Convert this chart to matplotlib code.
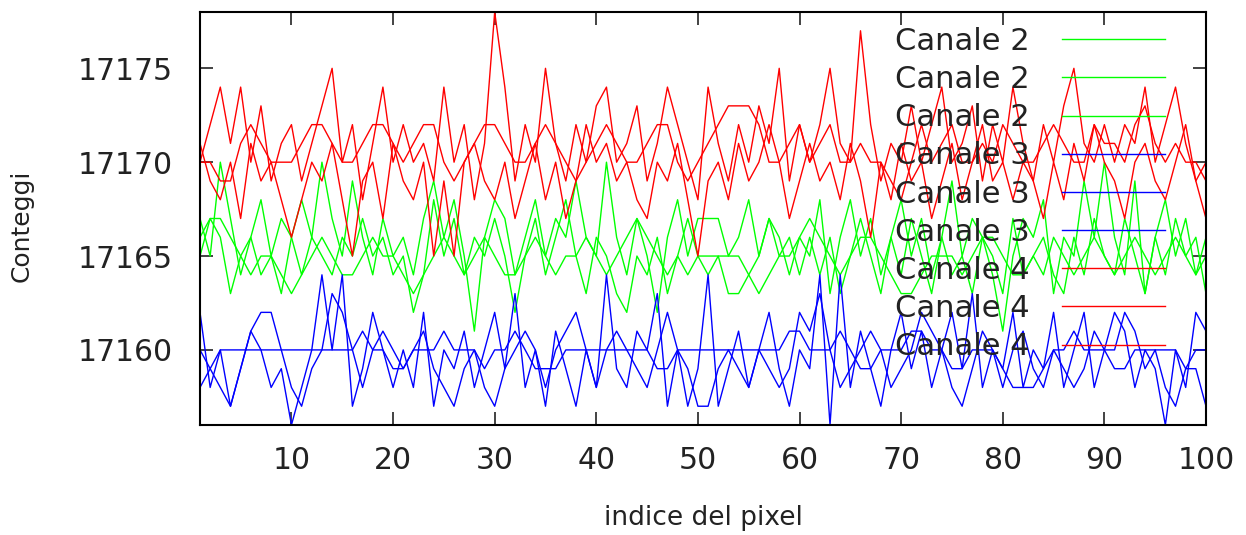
import numpy as np
import matplotlib
matplotlib.use('Agg')
import matplotlib.pyplot as plt

# indice del pixel
pixel = np.arange(1, 101)

# Canale 2 (verde)
canale2_a = [17167, 17165, 17170, 17167, 17164, 17166, 17168, 17165, 17167, 17166,
             17164, 17166, 17170, 17167, 17165, 17169, 17166, 17164, 17167, 17165,
             17166, 17164, 17167, 17169, 17166, 17168, 17165, 17161, 17166, 17168,
             17167, 17164, 17166, 17168, 17165, 17167, 17166, 17169, 17166, 17165,
             17170, 17166, 17164, 17167, 17165, 17162, 17166, 17168, 17165, 17167,
             17167, 17167, 17165, 17166, 17168, 17165, 17167, 17166, 17164, 17166,
             17165, 17168, 17163, 17166, 17168, 17165, 17167, 17164, 17166, 17168,
             17165, 17167, 17164, 17166, 17169, 17165, 17167, 17166, 17164, 17161,
             17165, 17167, 17166, 17168, 17163, 17166, 17165, 17169, 17166, 17170,
             17166, 17164, 17169, 17163, 17166, 17168, 17165, 17167, 17164, 17166]
canale2_b = [17165, 17167, 17166, 17163, 17165, 17166, 17164, 17165, 17163, 17166,
             17168, 17166, 17165, 17164, 17166, 17165, 17167, 17165, 17166, 17164,
             17165, 17162, 17164, 17168, 17165, 17167, 17164, 17166, 17165, 17167,
             17165, 17162, 17165, 17167, 17164, 17166, 17168, 17165, 17163, 17166,
             17165, 17163, 17162, 17165, 17164, 17166, 17163, 17165, 17167, 17165,
             17165, 17165, 17163, 17163, 17164, 17165, 17167, 17165, 17166, 17164,
             17166, 17164, 17166, 17163, 17165, 17167, 17165, 17163, 17166, 17164,
             17167, 17165, 17163, 17166, 17164, 17165, 17163, 17166, 17165, 17163,
             17167, 17164, 17165, 17166, 17164, 17163, 17166, 17164, 17167, 17165,
             17164, 17167, 17165, 17163, 17166, 17164, 17167, 17165, 17166, 17163]
canale2_c = [17166, 17167, 17167, 17166, 17165, 17164, 17165, 17165, 17164, 17163,
             17164, 17165, 17166, 17165, 17164, 17164, 17165, 17166, 17165, 17165,
             17164, 17163, 17164, 17165, 17166, 17165, 17164, 17165, 17166, 17165,
             17164, 17164, 17165, 17166, 17165, 17164, 17165, 17165, 17166, 17165,
             17164, 17165, 17166, 17167, 17166, 17165, 17164, 17165, 17164, 17165,
             17164, 17165, 17165, 17165, 17164, 17163, 17164, 17165, 17165, 17166,
             17167, 17166, 17165, 17164, 17165, 17166, 17166, 17165, 17164, 17163,
             17163, 17164, 17165, 17165, 17165, 17164, 17165, 17166, 17166, 17165,
             17164, 17164, 17165, 17164, 17166, 17165, 17164, 17165, 17166, 17165,
             17164, 17165, 17166, 17165, 17164, 17165, 17166, 17165, 17164, 17165]

# Canale 3 (blu)
canale3_a = [17160, 17159, 17160, 17160, 17160, 17160, 17160, 17160, 17160, 17160,
             17160, 17160, 17160, 17160, 17160, 17160, 17161, 17160, 17160, 17159,
             17159, 17160, 17160, 17160, 17161, 17160, 17160, 17160, 17159, 17160,
             17160, 17161, 17160, 17159, 17159, 17159, 17160, 17160, 17160, 17160,
             17160, 17160, 17160, 17160, 17160, 17159, 17159, 17160, 17160, 17160,
             17160, 17160, 17160, 17160, 17160, 17160, 17160, 17160, 17161, 17161,
             17160, 17160, 17160, 17161, 17160, 17159, 17159, 17160, 17160, 17160,
             17161, 17161, 17160, 17160, 17159, 17159, 17160, 17160, 17160, 17159,
             17158, 17158, 17158, 17159, 17160, 17160, 17161, 17160, 17160, 17160,
             17159, 17159, 17160, 17160, 17160, 17160, 17160, 17159, 17159, 17157]
canale3_b = [17162, 17158, 17160, 17157, 17159, 17161, 17160, 17158, 17159, 17156,
             17158, 17160, 17164, 17160, 17164, 17157, 17159, 17162, 17160, 17158,
             17160, 17158, 17162, 17157, 17160, 17159, 17161, 17158, 17160, 17162,
             17159, 17163, 17158, 17160, 17157, 17161, 17159, 17157, 17160, 17158,
             17164, 17159, 17158, 17161, 17160, 17163, 17157, 17160, 17157, 17159,
             17164, 17157, 17159, 17161, 17158, 17160, 17162, 17159, 17157, 17160,
             17159, 17164, 17156, 17164, 17158, 17161, 17159, 17157, 17160, 17162,
             17159, 17161, 17158, 17160, 17162, 17159, 17163, 17158, 17160, 17159,
             17162, 17158, 17160, 17159, 17162, 17158, 17160, 17162, 17158, 17160,
             17162, 17161, 17158, 17160, 17159, 17156, 17160, 17158, 17162, 17161]
canale3_c = [17158, 17159, 17158, 17157, 17159, 17161, 17162, 17162, 17160, 17158,
             17157, 17159, 17160, 17163, 17162, 17160, 17158, 17160, 17161, 17160,
             17159, 17160, 17161, 17159, 17158, 17157, 17159, 17160, 17158, 17157,
             17159, 17160, 17161, 17160, 17158, 17160, 17161, 17162, 17160, 17158,
             17160, 17161, 17160, 17159, 17158, 17160, 17162, 17160, 17159, 17157,
             17157, 17159, 17160, 17159, 17158, 17160, 17159, 17158, 17159, 17162,
             17161, 17163, 17160, 17158, 17159, 17160, 17161, 17160, 17158, 17159,
             17160, 17162, 17161, 17160, 17158, 17157, 17159, 17161, 17160, 17158,
             17160, 17161, 17159, 17158, 17160, 17159, 17158, 17159, 17161, 17160,
             17160, 17162, 17161, 17159, 17160, 17158, 17157, 17159, 17160, 17160]

# Canale 4 (rosso)
canale4_a = [17170, 17172, 17174, 17171, 17174, 17170, 17173, 17169, 17171, 17172,
             17169, 17171, 17173, 17175, 17170, 17172, 17168, 17171, 17174, 17170,
             17172, 17170, 17171, 17169, 17174, 17170, 17172, 17168, 17171, 17178,
             17174, 17169, 17172, 17170, 17175, 17171, 17169, 17172, 17170, 17173,
             17174, 17170, 17171, 17173, 17169, 17171, 17174, 17172, 17170, 17168,
             17174, 17171, 17169, 17172, 17170, 17173, 17171, 17175, 17169, 17172,
             17170, 17172, 17175, 17171, 17170, 17177, 17172, 17169, 17171, 17170,
             17173, 17170, 17172, 17174, 17170, 17171, 17173, 17169, 17172, 17170,
             17174, 17171, 17169, 17172, 17170, 17173, 17175, 17171, 17170, 17172,
             17170, 17172, 17171, 17174, 17170, 17172, 17174, 17171, 17169, 17170]
canale4_b = [17171, 17169, 17168, 17170, 17167, 17171, 17169, 17170, 17168, 17166,
             17168, 17170, 17169, 17171, 17168, 17165, 17169, 17170, 17167, 17171,
             17169, 17168, 17170, 17165, 17169, 17165, 17170, 17171, 17169, 17168,
             17170, 17167, 17169, 17171, 17168, 17170, 17167, 17169, 17172, 17170,
             17171, 17169, 17170, 17168, 17167, 17170, 17169, 17171, 17168, 17165,
             17169, 17170, 17168, 17171, 17169, 17170, 17172, 17170, 17167, 17169,
             17171, 17169, 17170, 17168, 17171, 17169, 17166, 17170, 17168, 17171,
             17169, 17170, 17167, 17169, 17171, 17168, 17170, 17172, 17169, 17170,
             17168, 17170, 17169, 17167, 17170, 17168, 17171, 17169, 17172, 17170,
             17169, 17167, 17170, 17171, 17169, 17168, 17170, 17172, 17169, 17167]
canale4_c = [17170, 17170, 17169, 17169, 17171, 17172, 17171, 17170, 17170, 17170,
             17171, 17172, 17172, 17171, 17170, 17170, 17171, 17172, 17172, 17171,
             17170, 17171, 17172, 17172, 17170, 17169, 17170, 17171, 17172, 17172,
             17171, 17170, 17170, 17171, 17172, 17171, 17170, 17169, 17170, 17171,
             17172, 17171, 17170, 17170, 17171, 17172, 17172, 17170, 17169, 17170,
             17171, 17172, 17173, 17173, 17173, 17172, 17170, 17170, 17171, 17172,
             17170, 17171, 17172, 17170, 17170, 17171, 17170, 17170, 17169, 17168,
             17170, 17172, 17170, 17171, 17172, 17170, 17170, 17171, 17170, 17172,
             17171, 17170, 17170, 17171, 17172, 17171, 17170, 17170, 17172, 17171,
             17171, 17170, 17172, 17173, 17171, 17170, 17171, 17170, 17170, 17169]

series = [("Canale 2", "#00ff00", canale2_a), ("Canale 2", "#00ff00", canale2_b),
          ("Canale 2", "#00ff00", canale2_c),
          ("Canale 3", "#0000ff", canale3_a), ("Canale 3", "#0000ff", canale3_b),
          ("Canale 3", "#0000ff", canale3_c),
          ("Canale 4", "#ff0000", canale4_a), ("Canale 4", "#ff0000", canale4_b),
          ("Canale 4", "#ff0000", canale4_c)]

fig = plt.figure(figsize=(12.46, 5.35), dpi=100)
ax = fig.add_axes([200/1246, 1 - 425/535, 1006/1246, 413/535])

for label, col, vals in series:
    ax.plot(pixel, vals, color=col, lw=1.0, label=label)

ax.set_xlim(1, 100)
ax.set_ylim(17156, 17178)
ax.set_xticks(range(10, 101, 10))
ax.set_yticks([17160, 17165, 17170, 17175])
ax.tick_params(direction='in', length=9.5, width=1.2, labelsize=21.5,
               top=True, right=True, colors='#222222')
ax.tick_params(axis='x', pad=15)
ax.tick_params(axis='y', pad=19.5)
for s in ax.spines.values():
    s.set_linewidth(1.5)
ax.yaxis.get_major_formatter().set_useOffset(False)

ax.set_xlabel('indice del pixel', fontsize=19, color='#222222')
ax.set_ylabel('Conteggi', fontsize=18, color='#222222')
ax.xaxis.set_label_coords(0.5, -(518 - 425) / 413)
ax.xaxis.label.set_va('center')
ax.yaxis.set_label_coords((22 - 200) / 1006, 1 - (226 - 12) / 413)
ax.yaxis.label.set_va('center')

leg = ax.legend(loc='upper right', bbox_to_anchor=(1165/1246, 1 - 27/535),
                bbox_transform=fig.transFigure, frameon=False, fontsize=22,
                markerfirst=False, handlelength=3.37, handletextpad=1.05,
                labelspacing=0.30, borderpad=0, borderaxespad=0)
for t in leg.get_texts():
    t.set_color('#222222')

fig.savefig('out.png', dpi=100)
